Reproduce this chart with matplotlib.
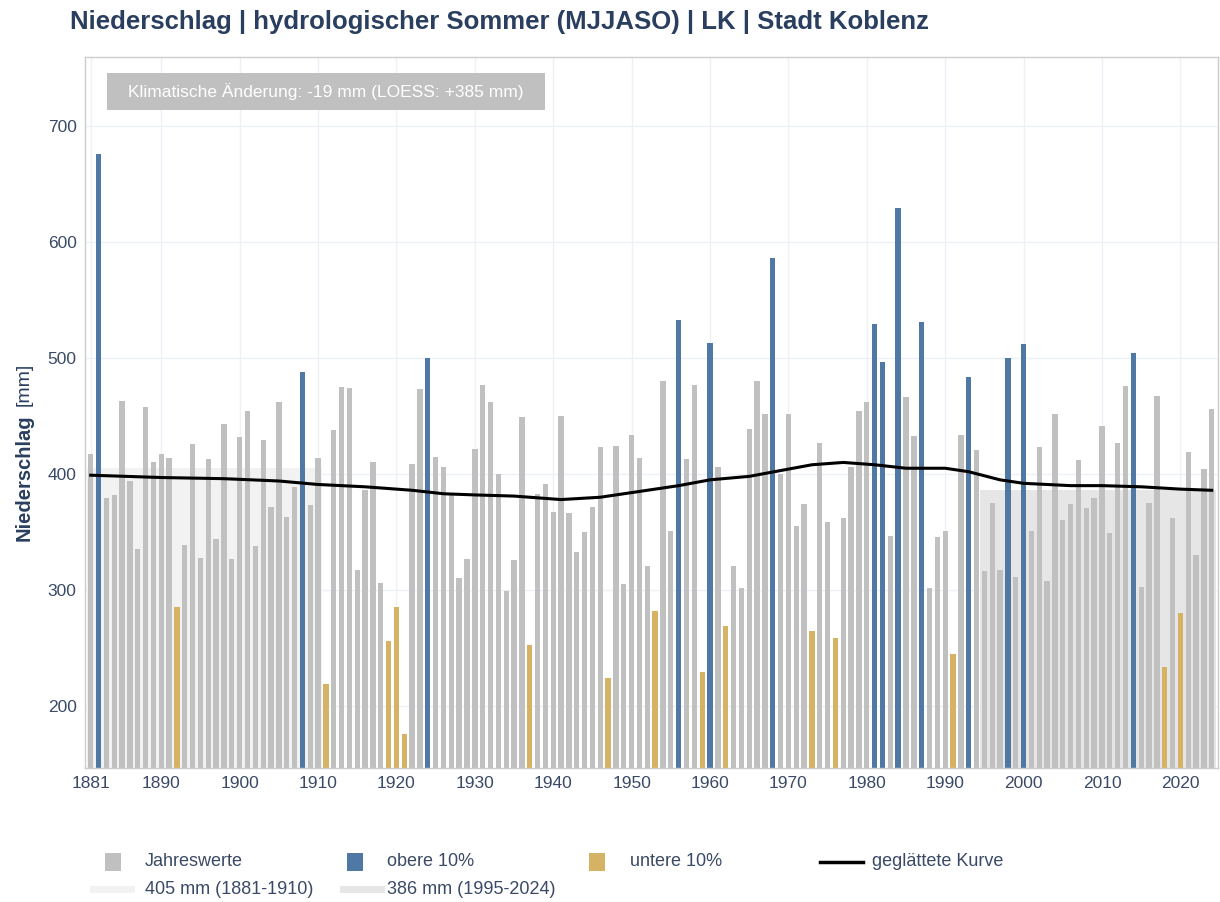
import numpy as np
import matplotlib
matplotlib.use("Agg")
import matplotlib.pyplot as plt
from matplotlib.patches import Rectangle
from matplotlib.lines import Line2D

plt.rcParams["font.family"] = ["Liberation Sans", "DejaVu Sans"]

# ── Data ──────────────────────────────────────────────────────────────────────
years = list(range(1881, 2025))
precip = [
    417, 676, 379, 382, 463, 394, 335, 458, 410, 417,   # 1881-1890
    414, 285, 339, 426, 328, 413, 344, 443, 327, 432,   # 1891-1900
    454, 338, 429, 372, 462, 363, 389, 488, 373, 414,   # 1901-1910
    219, 438, 475, 474, 317, 386, 410, 306, 256, 285,   # 1911-1920
    176, 409, 473, 500, 415, 406, 382, 310, 327, 422,   # 1921-1930
    477, 462, 400, 299, 326, 449, 253, 383, 391, 367,   # 1931-1940
    450, 366, 333, 350, 372, 423, 224, 424, 305, 434,   # 1941-1950
    414, 321, 282, 480, 351, 533, 413, 477, 229, 513,   # 1951-1960
    406, 269, 321, 302, 439, 480, 452, 586, 400, 452,   # 1961-1970
    355, 374, 265, 427, 359, 259, 362, 406, 454, 462,   # 1971-1980
    529, 497, 347, 629, 466, 433, 531, 302, 346, 351,   # 1981-1990
    245, 434, 484, 421, 316, 375, 317, 500, 311, 512,   # 1991-2000
    351, 423, 308, 452, 360, 374, 412, 371, 379, 441,   # 2001-2010
    349, 427, 476, 504, 303, 375, 467, 234, 362, 280,   # 2011-2020
    419, 330, 404, 456,                                 # 2021-2024
]
upper_years = [1882, 1908, 1924, 1956, 1960, 1968, 1981, 1982, 1984, 1987,
               1993, 1998, 2000, 2014]
lower_years = [1892, 1911, 1919, 1920, 1921, 1937, 1947, 1953, 1959, 1962,
               1973, 1976, 1991, 2018, 2020]

# smoothed curve (LOESS), sampled
loess_years = [1881, 1890, 1898, 1905, 1910, 1916, 1922, 1926, 1930, 1935,
               1941, 1946, 1951, 1956, 1960, 1965, 1969, 1973, 1977, 1981,
               1985, 1990, 1993, 1997, 2000, 2006, 2010, 2015, 2020, 2024]
loess_vals = [399, 397, 396, 394, 391, 389, 386, 383, 382, 381,
              378, 380, 385, 390, 395, 398, 403, 408, 410, 408,
              405, 405, 402, 395, 392, 390, 390, 389, 387, 386]

ref1_val, ref1_span = 405, (1881, 1910)
ref2_val, ref2_span = 386, (1995, 2024)

# ── Colours ───────────────────────────────────────────────────────────────────
C_GRAY = "#c0c0c0"
C_BLUE = "#5078a5"
C_GOLD = "#d6b265"
C_NAVY = "#2a3f5f"
C_TEXT = "#3a4a66"
C_REF1 = "#f2f2f2"
C_REF2 = "#e6e6e6"

colors = [C_BLUE if y in upper_years else C_GOLD if y in lower_years else C_GRAY
          for y in years]

W, H = 1220, 902
fig = plt.figure(figsize=(W / 100, H / 100), dpi=100)


def fx(px):
    return px / W


def fy(py):
    return 1 - py / H


ax = fig.add_axes([fx(85), fy(768), fx(1218) - fx(85), fy(57) - fy(768)])
ax.set_xlim(1880.27, 2024.8)
ax.set_ylim(146.6, 759.5)

# reference period bands
ax.add_patch(Rectangle((ref1_span[0] - 0.5, 0), ref1_span[1] - ref1_span[0] + 1,
                       ref1_val, facecolor=C_REF1, edgecolor="none", zorder=1))
ax.add_patch(Rectangle((ref2_span[0] - 0.5, 0), ref2_span[1] - ref2_span[0] + 1,
                       ref2_val, facecolor=C_REF2, edgecolor="none", zorder=1))

ax.bar(years, precip, width=0.68, color=colors, zorder=2)
ax.plot(loess_years, loess_vals, color="black", lw=2.2, zorder=3)

ax.set_yticks([200, 300, 400, 500, 600, 700])
ax.set_xticks([1881] + list(range(1890, 2021, 10)))
ax.grid(True, color="#edf0f7", lw=1, zorder=0)
ax.set_axisbelow(True)
ax.tick_params(length=0, labelsize=12.5, colors=C_TEXT, pad=6)
for s in ax.spines.values():
    s.set_color("#cccccc")
    s.set_linewidth(1)

# annotation box
ax.add_patch(Rectangle((fx(107), fy(110)), fx(545) - fx(107), fy(73) - fy(110),
                       transform=fig.transFigure, facecolor="#c0c0c0",
                       edgecolor="none", zorder=5))
fig.text(fx(326), fy(92), "Klimatische Änderung: -19 mm (LOESS: +385 mm)",
         color="white", fontsize=12.5, ha="center", va="center", zorder=6)

# title and y label
fig.text(fx(70), fy(22), "Niederschlag | hydrologischer Sommer (MJJASO) | LK | Stadt Koblenz",
         color=C_NAVY, fontsize=18.5, fontweight="bold", ha="left", va="center")
fig.text(fx(24), fy(541), "Niederschlag", rotation=90, color=C_NAVY,
         fontsize=14.5, fontweight="bold", ha="center", va="bottom")
fig.text(fx(24), fy(406), "[mm]", rotation=90, color=C_NAVY,
         fontsize=14, ha="center", va="bottom")

# legend (hand placed)
def square(x, y, color):
    fig.add_artist(Rectangle((fx(x - 8), fy(y + 9)), fx(16), fy(0) - fy(18),
                             transform=fig.transFigure, facecolor=color,
                             edgecolor="none"))


def label(x, y, text):
    fig.text(fx(x), fy(y), text, color=C_TEXT, fontsize=13,
             ha="left", va="center")


square(113, 862, C_GRAY); label(145, 862, "Jahreswerte")
square(355, 862, C_BLUE); label(387, 862, "obere 10%")
square(597, 862, C_GOLD); label(630, 862, "untere 10%")
fig.add_artist(Line2D([fx(820), fx(863)], [fy(862), fy(862)], color="black",
                      lw=2.5, transform=fig.transFigure))
label(872, 862, "geglättete Kurve")
fig.add_artist(Rectangle((fx(90), fy(893)), fx(45), fy(0) - fy(7),
                         transform=fig.transFigure, facecolor=C_REF1,
                         edgecolor="none"))
label(145, 890, "405 mm (1881-1910)")
fig.add_artist(Rectangle((fx(340), fy(893)), fx(45), fy(0) - fy(7),
                         transform=fig.transFigure, facecolor=C_REF2,
                         edgecolor="none"))
label(387, 890, "386 mm (1995-2024)")

fig.savefig("out.png", dpi=100)
